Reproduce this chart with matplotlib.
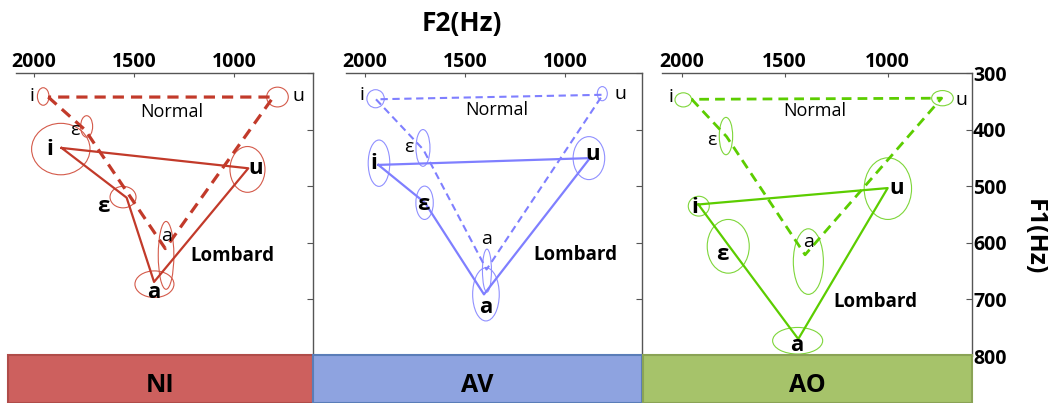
import matplotlib
matplotlib.use('Agg')
import matplotlib.pyplot as plt
from matplotlib.patches import Ellipse, Rectangle

plt.rcParams['font.family'] = ['Open Sans', 'DejaVu Sans']

# vowel order for every list below: i, ε, a, u
vowels = ['i', 'ε', 'a', 'u']
panel_names = ['NI', 'AV', 'AO']
f2_ticks = [2000, 1500, 1000]
f1_ticks = [300, 400, 500, 600, 700, 800]

# ---- NI ----
ni_normal_f2 = [1930, 1746, 1345, 805]
ni_normal_f1 = [342, 400, 610, 342]
ni_normal_ell_f2 = [1955, 1738, 1341, 784]
ni_normal_ell_f1 = [341, 394, 622, 342]
ni_normal_ell_w = [58, 60, 78, 108]
ni_normal_ell_h = [31, 38, 120, 35]
ni_normal_lab_f2 = [2013, 1797, 1338, 680]
ni_normal_lab_f1 = [341, 400, 587, 341]
ni_lombard_f2 = [1863, 1538, 1401, 930]
ni_lombard_f1 = [432, 520, 669, 468]
ni_lombard_ell_f2 = [1867, 1556, 1399, 934]
ni_lombard_ell_f1 = [434, 519, 673, 470]
ni_lombard_ell_w = [292, 130, 195, 175]
ni_lombard_ell_h = [91, 38, 47, 81]
ni_lombard_lab_f2 = [1921, 1655, 1402, 891]
ni_lombard_lab_f1 = [435, 535, 688, 468]

# ---- AV ----
av_normal_f2 = [1945, 1708, 1392, 811]
av_normal_f1 = [346, 435, 647, 338]
av_normal_ell_f2 = [1947, 1710, 1390, 813]
av_normal_ell_f1 = [345, 432, 649, 336]
av_normal_ell_w = [87, 70, 45, 50]
av_normal_ell_h = [32, 65, 76, 25]
av_normal_lab_f2 = [2013, 1783, 1392, 721]
av_normal_lab_f1 = [338, 431, 593, 337]
av_lombard_f2 = [1933, 1700, 1405, 875]
av_lombard_f1 = [462, 529, 691, 450]
av_lombard_ell_f2 = [1930, 1702, 1395, 880]
av_lombard_ell_f1 = [459, 529, 691, 450]
av_lombard_ell_w = [108, 87, 133, 158]
av_lombard_ell_h = [82, 59, 94, 76]
av_lombard_lab_f2 = [1958, 1708, 1395, 861]
av_lombard_lab_f1 = [459, 532, 714, 444]

# ---- AO ----
ao_normal_f2 = [1951, 1782, 1401, 738]
ao_normal_f1 = [346, 412, 621, 344]
ao_normal_ell_f2 = [1992, 1785, 1385, 734]
ao_normal_ell_f1 = [347, 411, 633, 344]
ao_normal_ell_w = [81, 65, 146, 105]
ao_normal_ell_h = [25, 66, 116, 27]
ao_normal_lab_f2 = [2053, 1854, 1385, 641]
ao_normal_lab_f1 = [342, 418, 599, 347]
ao_lombard_f2 = [1919, 1769, 1434, 1000]
ao_lombard_f1 = [532, 606, 770, 503]
ao_lombard_ell_f2 = [1917, 1774, 1437, 999]
ao_lombard_ell_f1 = [535, 606, 773, 504]
ao_lombard_ell_w = [102, 204, 243, 230]
ao_lombard_ell_h = [35, 95, 47, 109]
ao_lombard_lab_f2 = [1935, 1804, 1442, 956]
ao_lombard_lab_f1 = [538, 620, 782, 503]

W, H = 1048, 403

# pixel geometry of the three panels (left, right) and f2 limits
panel_px = [(16, 312.7), (346, 641.7), (661.7, 971.7)]
panel_xlim = [(2091, 608), (2095, 616), (2097, 592)]
ax_top, ax_bottom = 73.3, 356
line_colors = ['#C23A2A', '#7F7FFF', '#5CCD00']
ell_colors = ['#D45A4A', '#9090FF', '#7ED63A']
dash_lw = [2.3, 1.5, 2.0]
box_px = [(8, 313), (313, 642), (643, 972)]
box_colors = ['#CD605E', '#8EA3E0', '#A6C36A']
box_edges = ['#B04C49', '#5A7DB8', '#8AA355']

normal_data = [
    (ni_normal_f2, ni_normal_f1, ni_normal_ell_f2, ni_normal_ell_f1, ni_normal_ell_w, ni_normal_ell_h, ni_normal_lab_f2, ni_normal_lab_f1),
    (av_normal_f2, av_normal_f1, av_normal_ell_f2, av_normal_ell_f1, av_normal_ell_w, av_normal_ell_h, av_normal_lab_f2, av_normal_lab_f1),
    (ao_normal_f2, ao_normal_f1, ao_normal_ell_f2, ao_normal_ell_f1, ao_normal_ell_w, ao_normal_ell_h, ao_normal_lab_f2, ao_normal_lab_f1),
]
lombard_data = [
    (ni_lombard_f2, ni_lombard_f1, ni_lombard_ell_f2, ni_lombard_ell_f1, ni_lombard_ell_w, ni_lombard_ell_h, ni_lombard_lab_f2, ni_lombard_lab_f1),
    (av_lombard_f2, av_lombard_f1, av_lombard_ell_f2, av_lombard_ell_f1, av_lombard_ell_w, av_lombard_ell_h, av_lombard_lab_f2, av_lombard_lab_f1),
    (ao_lombard_f2, ao_lombard_f1, ao_lombard_ell_f2, ao_lombard_ell_f1, ao_lombard_ell_w, ao_lombard_ell_h, ao_lombard_lab_f2, ao_lombard_lab_f1),
]
# where the "Normal" / "Lombard" words sit (f2, f1)
normal_word = [(1313, 368), (1341, 365), (1353, 366)]
lombard_word = [(1010, 623), (950, 622), (1062, 705)]


def draw_vowels(ax, data, color, ecolor, ls, lw, bold):
    f2, f1, ef2, ef1, ew, eh, lf2, lf1 = data
    # polygon i - ε - a - u - i
    ax.plot(f2 + [f2[0]], f1 + [f1[0]], color=color, ls=ls, lw=lw,
            dashes=(3.5, 2.2) if ls == '--' else (None, None), zorder=3)
    for k in range(len(vowels)):
        ax.add_patch(Ellipse((ef2[k], ef1[k]), ew[k], eh[k], fill=False,
                             ec=ecolor, lw=0.8, zorder=2))
        ax.text(lf2[k], lf1[k], vowels[k], ha='center', va='center',
                fontsize=16 if bold else 14,
                fontweight='bold' if bold else 'normal', color='black', zorder=5)


fig = plt.figure(figsize=(W / 100, H / 100), dpi=100)

for p in range(3):
    x0, x1 = panel_px[p]
    ax = fig.add_axes([x0 / W, 1 - ax_bottom / H, (x1 - x0) / W, (ax_bottom - ax_top) / H])
    ax.set_xlim(*panel_xlim[p])
    ax.set_ylim(800, 300)

    draw_vowels(ax, normal_data[p], line_colors[p], ell_colors[p], '--', dash_lw[p], False)
    draw_vowels(ax, lombard_data[p], line_colors[p], ell_colors[p], '-', 1.6, True)

    ax.text(*normal_word[p], 'Normal', ha='center', va='center', fontsize=13)
    ax.text(*lombard_word[p], 'Lombard', ha='center', va='center', fontsize=13.5,
            fontweight='bold')

    ax.spines['left'].set_visible(False)
    ax.spines['bottom'].set_visible(False)
    for s in ['top', 'right']:
        ax.spines[s].set_color('#555555')
        ax.spines[s].set_linewidth(1)

    ax.xaxis.tick_top()
    ax.set_xticks(f2_ticks)
    ax.set_xticklabels([str(t) for t in f2_ticks], fontsize=14, fontweight='bold')
    ax.yaxis.tick_right()
    ax.set_yticks(f1_ticks)
    if p == 2:
        ax.set_yticklabels([str(t) for t in f1_ticks], fontsize=14, fontweight='bold')
    else:
        ax.set_yticklabels([])
    ax.tick_params(axis='x', direction='in', length=3, pad=1, color='#555555')
    ax.tick_params(axis='y', direction='in', length=4, pad=1, color='#555555')

    # coloured condition box under the panel
    bx0, bx1 = box_px[p]
    fig.add_artist(Rectangle((bx0 / W, 0), (bx1 - bx0) / W, (H - 355) / H,
                             transform=fig.transFigure, fc=box_colors[p],
                             ec=box_edges[p], lw=1.5, zorder=10))
    fig.text((bx0 + bx1) / 2 / W, 1 - 386 / H, panel_names[p], ha='center',
             va='center', fontsize=18, fontweight='bold', zorder=11)

fig.text(461.7 / W, 1 - 23 / H, 'F2(Hz)', ha='center', va='center',
         fontsize=19, fontweight='bold')
fig.text(1034 / W, 1 - 236.7 / H, 'F1(Hz)', ha='center', va='center',
         fontsize=18, fontweight='bold', rotation=270)

fig.savefig('out.png', dpi=100)
